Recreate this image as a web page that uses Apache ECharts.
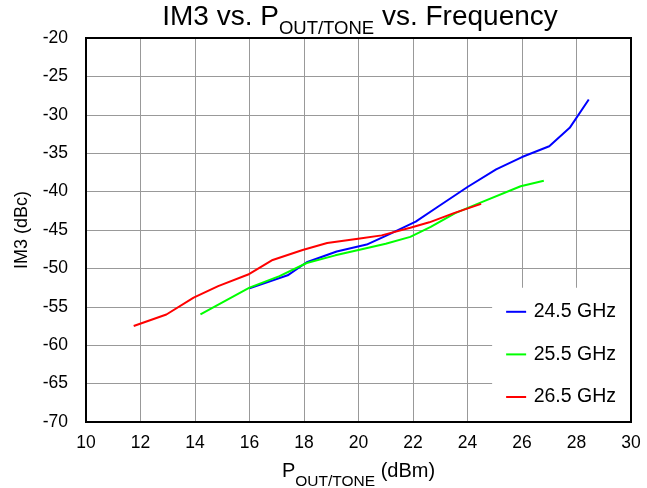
<!DOCTYPE html>
<html>
<head>
<meta charset="utf-8">
<script src="https://cdn.jsdelivr.net/npm/echarts@6/dist/echarts.min.js"></script>
<style>
  html, body { margin: 0; padding: 0; background: #fff; }
  #chart { width: 647px; height: 488px; }
</style>
</head>
<body>
<div id="chart"></div>
<script>
// P_OUT/TONE (dBm) vs IM3 (dBc)
const seriesNames = ["24.5 GHz", "25.5 GHz", "26.5 GHz"];
const colors = ["#0000ff", "#00ff00", "#ff0000"];

const pout245 = [16.0, 17.4, 18.1, 19.2, 20.3, 21.1, 22.1, 22.9, 24.0, 25.05, 26.0, 27.0, 27.75, 28.45];
const im3_245 = [-52.6, -50.9, -49.2, -47.8, -46.9, -45.6, -43.9, -42.0, -39.4, -37.1, -35.5, -34.1, -31.7, -28.0];

const pout255 = [14.2, 16.0, 17.1, 18.1, 19.15, 20.0, 21.0, 21.9, 22.65, 23.55, 24.5, 25.95, 26.8];
const im3_255 = [-56.0, -52.5, -51.0, -49.3, -48.3, -47.6, -46.8, -45.9, -44.6, -42.8, -41.4, -39.3, -38.6];

const pout265 = [11.75, 12.95, 13.95, 14.85, 15.95, 16.85, 17.95, 18.85, 20.05, 20.85, 21.9, 22.6, 23.5, 24.5];
const im3_265 = [-57.5, -56.0, -53.8, -52.3, -50.8, -48.9, -47.6, -46.7, -46.1, -45.7, -44.7, -44.0, -42.8, -41.6];

const xs = [pout245, pout255, pout265];
const ys = [im3_245, im3_255, im3_265];

const chart = echarts.init(document.getElementById("chart"));
const font = "Liberation Sans, Arial, sans-serif";

chart.setOption({
  animation: false,
  textStyle: { fontFamily: font },
  title: {
    text: "{a|IM3 vs. P}{s|OUT/TONE}{a| vs. Frequency}",
    left: 360,
    textAlign: "center",
    top: 3,
    padding: 0,
    textStyle: {
      fontWeight: "normal",
      rich: {
        a: { fontSize: 28, color: "#000", fontFamily: font, fontWeight: "normal", lineHeight: 30, verticalAlign: "top" },
        // subscript: pushed down with top padding
        s: { fontSize: 18.5, color: "#000", fontFamily: font, fontWeight: "normal", lineHeight: 14, padding: [16.5, 0, 0, 0], verticalAlign: "top" }
      }
    }
  },
  grid: {
    left: 86, right: 16, top: 38, bottom: 66,
    outerBoundsMode: "none",
    show: true, borderColor: "#000", borderWidth: 2, z: 10
  },
  legend: {
    orient: "vertical",
    right: 16,
    bottom: 66,
    backgroundColor: "#fff",
    padding: [14, 15, 15, 14],
    itemGap: 22.6,
    itemWidth: 20,
    itemHeight: 2,
    icon: "rect",
    itemStyle: { borderWidth: 0 },
    textStyle: { fontSize: 19.5, lineHeight: 20, color: "#000", fontFamily: font, padding: [0, 0, 0, 2.5] },
    data: seriesNames
  },
  xAxis: {
    type: "value",
    min: 10, max: 30, interval: 2,
    name: "{a|P}{s|OUT/TONE}{a| (dBm)}",
    nameLocation: "middle",
    nameGap: 39,
    nameTextStyle: {
      verticalAlign: "top",
      rich: {
        a: { fontSize: 20, color: "#000", fontFamily: font, lineHeight: 22, verticalAlign: "top" },
        s: { fontSize: 15.5, color: "#000", fontFamily: font, lineHeight: 12, padding: [13, 0, 0, 0], verticalAlign: "top" }
      }
    },
    axisLine: { show: false },
    axisTick: { show: false },
    axisLabel: { fontSize: 17.5, color: "#000", margin: 12 },
    splitLine: { lineStyle: { color: "#999", width: 1 } }
  },
  yAxis: {
    type: "value",
    min: -70, max: -20, interval: 5,
    name: "IM3 (dBc)",
    nameLocation: "middle",
    nameGap: 55,
    nameTextStyle: { fontSize: 18, color: "#000" },
    axisLine: { show: false },
    axisTick: { show: false },
    axisLabel: { fontSize: 17.5, color: "#000", margin: 18 },
    splitLine: { lineStyle: { color: "#999", width: 1 } }
  },
  series: seriesNames.map((name, i) => ({
    name: name,
    type: "line",
    showSymbol: false,
    symbol: "none",
    color: colors[i],
    lineStyle: { width: 2, color: colors[i] },
    data: xs[i].map((x, j) => [x, ys[i][j]])
  }))
});
</script>
</body>
</html>
